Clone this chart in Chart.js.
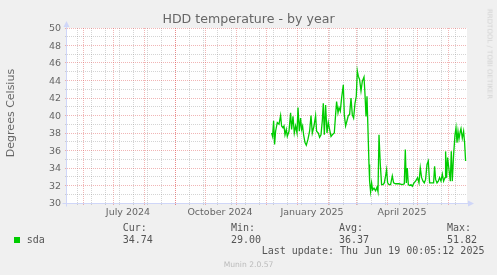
<!DOCTYPE html>
<html>
<head>
<meta charset="utf-8">
<title>HDD temperature - by year</title>
<script src="https://cdn.jsdelivr.net/npm/chart.js@4/dist/chart.umd.min.js"></script>
<style>
    body { margin: 0; background: #f0f0f0; }
    #wrap { position: relative; width: 497px; height: 275px; overflow: hidden; font-family: "DejaVu Sans", sans-serif; color: #666; }
    #chart { position: absolute; left: 0; top: 0; }
    .t { position: absolute; line-height: 1; white-space: nowrap; }
    .mono { font-family: "DejaVu Sans Mono", monospace; font-size: 10px; color: #555; }
</style>
</head>
<body>
<div id="wrap">
    <canvas id="chart" width="497" height="275"></canvas>
    <div class="t" style="left:0; width:497px; text-align:center; top:13.3px; font-size:12.6px;">HDD temperature - by year</div>
    <div class="t" style="left:9.5px; top:113px; font-size:11px; transform:translate(-50%,-50%) rotate(-90deg);">Degrees Celsius</div>
    <div class="t" style="left:488.5px; top:53.5px; font-size:7px; color:#d2d2d2; transform:translate(-50%,-50%) rotate(90deg);">RRDTOOL / TOBI OETIKER</div>
    <div id="legend"></div>
    <div class="t" style="left:0; width:497px; text-align:center; top:260.6px; font-size:7.6px; color:#bbb;">Munin 2.0.57</div>
</div>
<script>
"use strict";

// x = days since 1 June 2024 (the graph spans 400 days ending 19 June 2025)
const xMin = -16;
const xMax = 384;

const monthStarts = [0, 30, 61, 92, 122, 153, 183, 214, 245, 273, 304, 334, 365];
const weekLines = [-6, 8, 22, 36, 50, 64, 78, 92, 106, 120, 134, 148, 162, 176, 190, 204,
    218, 232, 246, 260, 274, 288, 302, 316, 330, 344, 358, 372];
const monthLabels = ["July 2024", "October 2024", "January 2025", "April 2025"];
const monthLabelDays = [45, 137, 229, 319];

const yMajor = [30, 32, 34, 36, 38, 40, 42, 44, 46, 48, 50];
const yMinor = [31, 33, 35, 37, 39, 41, 43, 45, 47, 49];

const seriesName = "sda";
const days = [
    188.6, 189.6, 190.6, 191.6, 192.6, 194.3, 196.0, 197.6, 198.6, 200.0,
    201.0, 202.0, 203.3, 204.3, 206.0, 207.6, 208.6, 210.0, 211.3, 212.6,
    214.0, 215.0, 216.3, 217.6, 218.6, 219.6, 220.6, 222.0, 223.3, 225.0,
    226.6, 228.0, 229.3, 231.0, 232.6, 233.6,
    235.3, 236.6, 238.0, 239.3, 240.3, 241.3, 242.6, 244.0, 245.3, 246.6,
    248.0, 249.3, 251.3, 252.6, 253.6, 255.0, 256.0, 257.3, 258.6, 260.3,
    261.3, 262.6, 264.0, 265.3, 266.6, 268.0, 269.3, 270.6, 272.0, 273.3,
    274.3, 275.3, 276.6, 278.0, 279.3, 281.0, 282.0, 283.0, 284.0,
    285.3, 286.0, 286.6, 287.6, 288.6, 289.6, 291.0, 292.6, 294.0, 295.0,
    296.0, 297.3, 298.6, 300.0, 301.3, 302.6, 303.6, 304.6, 306.0, 307.6,
    309.3, 310.6, 312.6, 316.0, 319.3, 321.3, 322.3, 323.3, 324.3, 325.3,
    326.6, 328.0, 329.3, 331.0, 332.6,
    334.6, 336.0, 337.3, 338.6, 340.0, 341.3, 342.6, 344.0, 345.3, 346.6,
    348.0, 349.3, 350.6, 351.6, 352.6, 354.0, 355.3, 356.6, 358.0, 359.3,
    360.6, 362.0, 362.6, 363.6, 364.6, 366.0, 367.3, 368.3, 369.3, 370.6,
    372.0, 373.0, 374.0, 375.0, 376.0, 377.3, 378.0, 379.3, 380.6, 381.6,
    382.6
];
const temps = [
    38.0, 37.6, 39.4, 36.7, 38.2, 39.2, 39.0, 40.0, 38.8, 38.6,
    38.8, 37.8, 38.4, 37.6, 38.2, 40.3, 38.4, 39.9, 38.0, 38.8,
    38.0, 40.9, 38.2, 39.7, 38.4, 38.8, 37.8, 36.9, 36.6, 37.3,
    38.2, 40.0, 38.0, 38.8, 40.0, 38.2,
    38.0, 37.5, 37.8, 39.4, 41.4, 37.8, 41.2, 38.0, 39.2, 38.4,
    37.6, 37.8, 38.0, 40.1, 41.6, 40.3, 40.9, 40.5, 42.0, 43.5,
    40.1, 38.8, 39.4, 40.0, 40.1, 42.0, 40.1, 39.7, 41.4, 42.2,
    45.1, 44.5, 44.1, 42.8, 43.9, 44.4, 42.4, 39.9, 42.2,
    37.1, 34.4, 32.5, 31.3, 32.3, 31.5, 31.7, 31.4, 31.8, 31.3,
    37.8, 34.4, 32.1, 32.1, 32.3, 33.1, 33.8, 32.3, 32.1, 32.1,
    33.1, 32.3, 32.2, 32.2, 32.1, 32.2, 36.1, 32.3, 34.0, 32.1,
    32.0, 32.1, 31.9, 32.3, 32.5,
    32.9, 32.3, 34.0, 32.9, 32.5, 32.3, 32.7, 34.4, 34.8, 32.3,
    32.3, 32.3, 32.3, 34.2, 32.7, 32.3, 32.5, 32.9, 32.5, 33.3,
    32.5, 32.9, 35.9, 32.9, 35.2, 33.8, 32.5, 35.9, 32.5, 35.5,
    37.8, 38.6, 36.9, 38.2, 37.3, 38.2, 38.5, 37.4, 38.2, 36.9,
    34.8
];

const statLabels = ["Cur:", "Min:", "Avg:", "Max:"];
const statValues = [34.74, 29.00, 36.37, 51.82];
const lastUpdate = "Last update: Thu Jun 19 00:05:12 2025";

const lineColor = "#00cc00";
const minorGrid = "rgba(143,143,143,0.38)";
const majorGrid = "rgba(222,79,79,0.42)";
const axisColor = "#cfd6f8";

const labelByDay = new Map(monthLabelDays.map((d, i) => [d, monthLabels[i]]));
const monthSet = new Set(monthStarts);
const weekSet = new Set(weekLines);

function xGridColor(ctx) {
    const v = ctx.tick ? ctx.tick.value : null;
    if (monthSet.has(v)) return majorGrid;
    if (weekSet.has(v)) return minorGrid;
    return "rgba(0,0,0,0)";
}

function yGridColor(ctx) {
    const v = ctx.tick ? ctx.tick.value : null;
    return v % 2 === 0 ? majorGrid : minorGrid;
}

const backdrop = {
    id: "backdrop",
    beforeDraw(chart) {
        const { ctx, chartArea: a } = chart;
        ctx.save();
        ctx.fillStyle = "#f0f0f0";
        ctx.fillRect(0, 0, chart.width, chart.height);
        ctx.fillStyle = "#ffffff";
        ctx.fillRect(a.left, a.top, a.right - a.left, a.bottom - a.top);
        ctx.restore();
    }
};

const axes = {
    id: "axes",
    afterDraw(chart) {
        const { ctx, chartArea: a } = chart;
        const x0 = a.left - 0.5;
        const y0 = a.bottom + 0.5;
        ctx.save();
        ctx.strokeStyle = axisColor;
        ctx.fillStyle = axisColor;
        ctx.lineWidth = 1;
        ctx.beginPath();
        ctx.moveTo(x0, y0 + 3);
        ctx.lineTo(x0, a.top - 2);
        ctx.moveTo(x0 - 4, y0);
        ctx.lineTo(a.right + 2, y0);
        ctx.stroke();
        ctx.beginPath();
        ctx.moveTo(x0, a.top - 7);
        ctx.lineTo(x0 - 3, a.top - 1);
        ctx.lineTo(x0 + 3, a.top - 1);
        ctx.closePath();
        ctx.fill();
        ctx.beginPath();
        ctx.moveTo(a.right + 7, y0);
        ctx.lineTo(a.right + 1, y0 - 3);
        ctx.lineTo(a.right + 1, y0 + 3);
        ctx.closePath();
        ctx.fill();
        ctx.restore();
    }
};

function buildLegend() {
    const legend = document.getElementById("legend");
    const cols = [122.7, 231, 339, 447];
    let html = '<div style="position:absolute; left:14px; top:237px; width:6px; height:6px; background:' + lineColor + ';"></div>';
    html += '<div class="t mono" style="left:26.7px; top:234.5px;">' + seriesName + '</div>';
    for (let i = 0; i < statLabels.length; i++) {
        html += '<div class="t mono" style="left:' + cols[i] + 'px; top:223.2px;">' + statLabels[i] + '</div>';
        html += '<div class="t mono" style="left:' + cols[i] + 'px; top:234.5px;">' + statValues[i].toFixed(2) + '</div>';
    }
    html += '<div class="t mono" style="left:261.7px; top:246.2px;">' + lastUpdate + '</div>';
    legend.innerHTML = html;
}

buildLegend();

const points = days.map((d, i) => ({ x: d, y: temps[i] }));
const tickFont = { family: "'DejaVu Sans', sans-serif", size: 9.5 };

new Chart(document.getElementById("chart"), {
    type: "line",
    data: {
        datasets: [
            {
                label: seriesName,
                data: points,
                borderColor: lineColor,
                borderWidth: 1.3,
                pointRadius: 0,
                tension: 0,
                fill: false
            }
        ]
    },
    options: {
        responsive: false,
        animation: false,
        devicePixelRatio: 1,
        layout: { padding: { left: 0, top: 28, right: 30, bottom: 0 } },
        plugins: { legend: { display: false }, tooltip: { enabled: false }, title: { display: false } },
        scales: {
            x: {
                type: "linear",
                min: xMin,
                max: xMax,
                afterBuildTicks: (s) => {
                    const vals = [...weekLines, ...monthStarts, ...monthLabelDays].sort((a, b) => a - b);
                    s.ticks = vals.map((v) => ({ value: v }));
                },
                afterFit: (s) => { s.height = 72; },
                grid: { color: xGridColor, tickColor: xGridColor, tickLength: 2, lineWidth: 1 },
                border: { display: false, dash: [1, 1] },
                ticks: {
                    autoSkip: false,
                    maxRotation: 0,
                    minRotation: 0,
                    padding: 2,
                    color: "#666",
                    font: tickFont,
                    callback: (v) => labelByDay.get(v) || ""
                }
            },
            y: {
                type: "linear",
                min: 30,
                max: 50,
                afterBuildTicks: (s) => {
                    const vals = [...yMajor, ...yMinor].sort((a, b) => a - b);
                    s.ticks = vals.map((v) => ({ value: v }));
                },
                afterFit: (s) => { s.width = 67; },
                grid: { color: yGridColor, tickColor: yGridColor, tickLength: 2, lineWidth: 1 },
                border: { display: false, dash: [1, 1] },
                ticks: {
                    autoSkip: false,
                    padding: 4,
                    labelOffset: 1,
                    color: "#666",
                    font: tickFont,
                    callback: (v) => (yMajor.includes(v) ? String(v) : "")
                }
            }
        }
    },
    plugins: [backdrop, axes]
});
</script>
</body>
</html>
